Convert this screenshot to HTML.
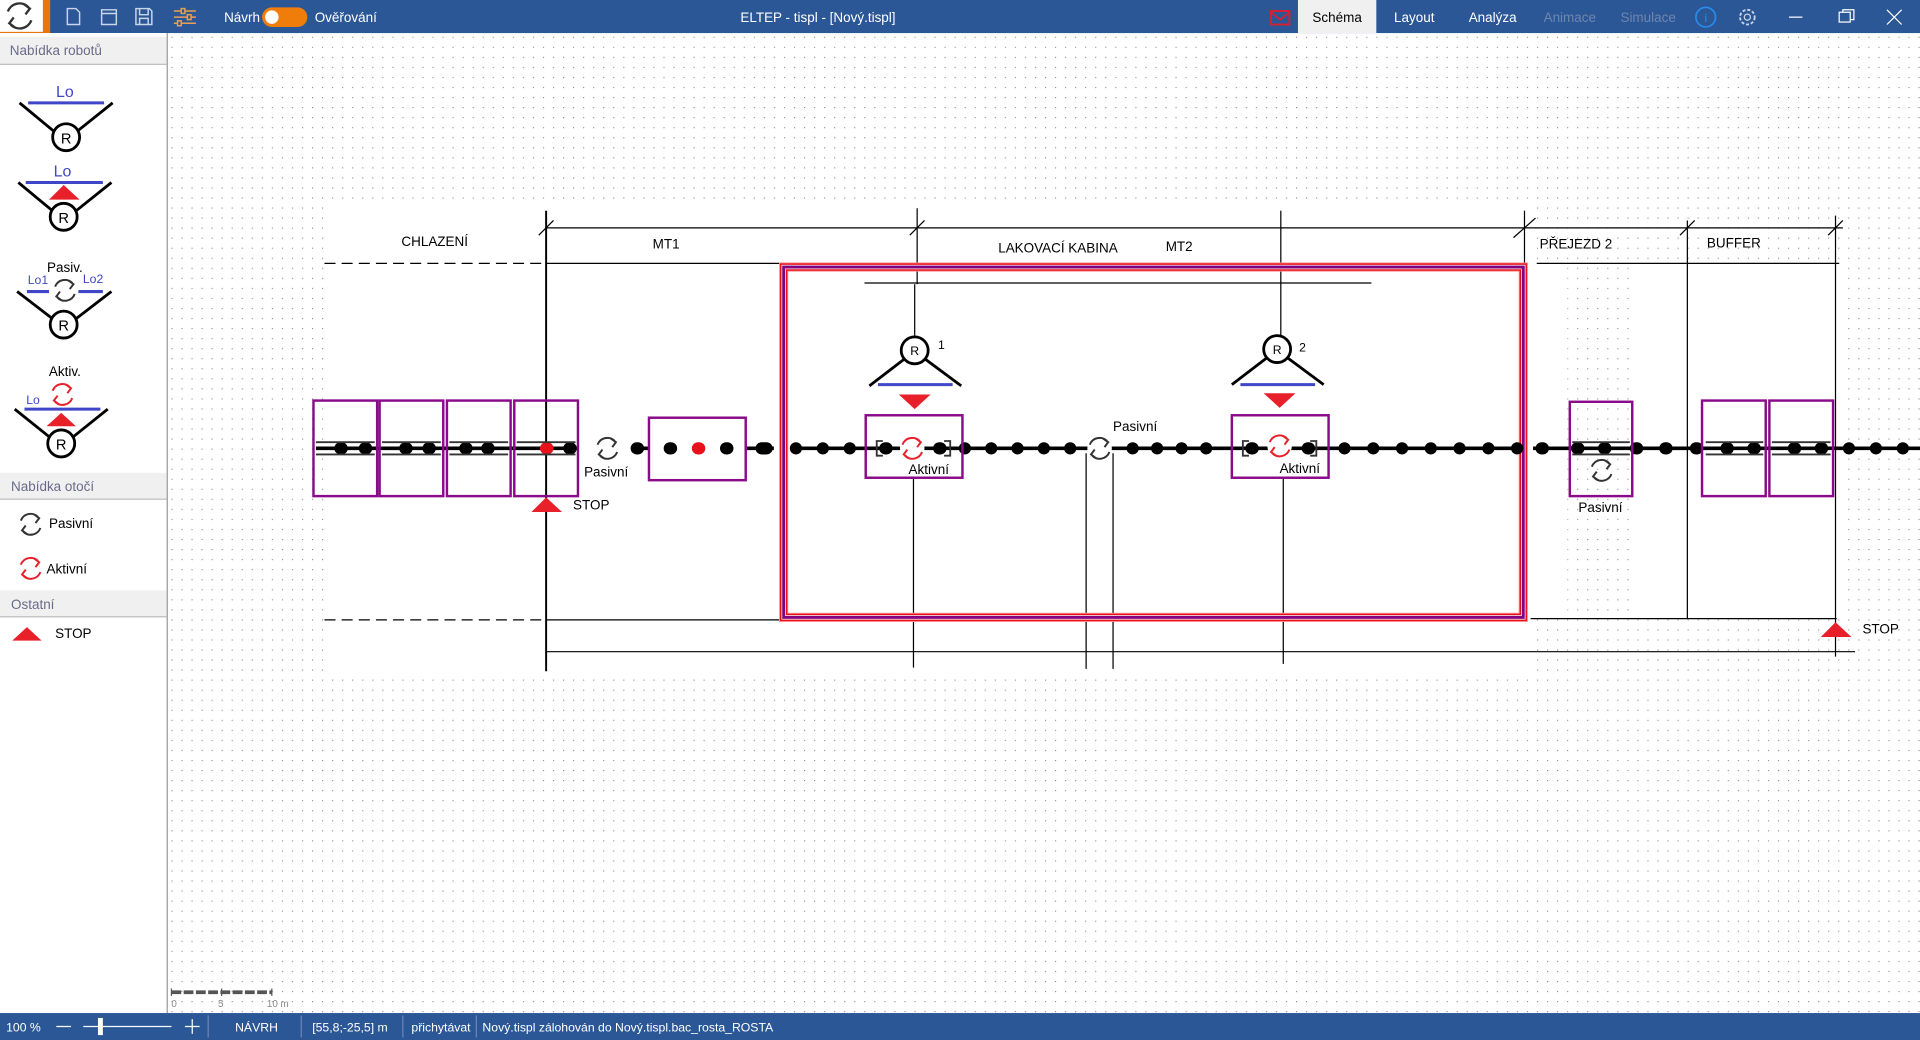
<!DOCTYPE html>
<html><head><meta charset="utf-8"><style>
html,body{margin:0;padding:0;width:1920px;height:1040px;overflow:hidden;background:#fff}
svg{display:block}
text{font-family:"Liberation Sans",sans-serif}
</style></head><body>
<svg width="1920" height="1040" viewBox="0 0 1568 849" preserveAspectRatio="none" xmlns="http://www.w3.org/2000/svg">
<defs>
<pattern id="dots" x="140" y="30" width="8.2" height="8.2" patternUnits="userSpaceOnUse"><rect x="0" y="0" width="0.9" height="0.9" fill="#8a8a8a"/></pattern>
<g id="rotP" fill="none" stroke="#333" stroke-width="1.6">
<path d="M-8,-3 A8.5,8.5 0 0 1 6,-6"/><path d="M8,3 A8.5,8.5 0 0 1 -6,6"/>
<path d="M3,-8 L7,-5 L4,-1" /><path d="M-3,8 L-7,5 L-4,1"/>
</g>
<g id="rotA" fill="none" stroke="#e8202a" stroke-width="1.6">
<path d="M-8,-3 A8.5,8.5 0 0 1 6,-6"/><path d="M8,3 A8.5,8.5 0 0 1 -6,6"/>
<path d="M3,-8 L7,-5 L4,-1" /><path d="M-3,8 L-7,5 L-4,1"/>
</g>
</defs>
<rect x="137" y="28" width="1431" height="799" fill="url(#dots)"/>
<rect x="265" y="168" width="985" height="380" fill="#fff"/>
<rect x="1250" y="215" width="30" height="290" fill="#fff"/>
<rect x="1335" y="215" width="170" height="290" fill="#fff"/>
<rect x="0" y="0" width="1568" height="27" fill="#2b5797"/>
<rect x="0" y="0" width="41" height="27" fill="#e8760e"/>
<rect x="0" y="0" width="35" height="26" fill="#fff"/>
<g transform="translate(16,13)"><use href="#rotP" transform="scale(1.2)"/></g>
<g fill="none" stroke="#c9d6ea" stroke-width="1.2">
<path d="M55,7 h7 l3,3 v10 h-10z"/><path d="M83,8 h12 v12 h-12z M83,11 h12"/><path d="M111,7 h11 l2,2 v11 h-13z M114,7 v5 h7 v-5 M114,20 v-5 h7 v5"/>
</g>
<g stroke="#e8a050" stroke-width="1.2"><path d="M142,9 h18 M142,14 h18 M142,19 h18"/><rect x="148" y="7" width="3" height="4" fill="#2b5797"/><rect x="153" y="12" width="3" height="4" fill="#2b5797"/><rect x="145" y="17" width="3" height="4" fill="#2b5797"/></g>
<text x="183" y="18" font-size="11" fill="#fff">Návrh</text>
<rect x="214" y="6" width="37" height="16" rx="8" fill="#f07d0a"/><circle cx="222" cy="14" r="5.5" fill="#fff"/>
<text x="257" y="18" font-size="11" fill="#fff">Ověřování</text>
<text x="668" y="18" font-size="11" fill="#fff" text-anchor="middle">ELTEP - tispl - [Nový.tispl]</text>
<rect x="1038" y="9" width="15" height="11" fill="none" stroke="#d62030" stroke-width="1.6"/><path d="M1038,10 l7.5,6 l7.5,-6" fill="none" stroke="#d62030" stroke-width="1.4"/>
<rect x="1060" y="0" width="64" height="27" fill="#f0f0f0"/>
<text x="1092" y="18" font-size="11" fill="#000" text-anchor="middle">Schéma</text>
<text x="1155" y="18" font-size="11" fill="#fff" text-anchor="middle">Layout</text>
<text x="1219" y="18" font-size="11" fill="#fff" text-anchor="middle">Analýza</text>
<text x="1282" y="18" font-size="11" fill="#6f86ad" text-anchor="middle">Animace</text>
<text x="1346" y="18" font-size="11" fill="#6f86ad" text-anchor="middle">Simulace</text>
<circle cx="1393" cy="14" r="8" fill="none" stroke="#2a8ae8" stroke-width="1.4"/><text x="1393" y="18" font-size="10" fill="#2a8ae8" text-anchor="middle">i</text>
<circle cx="1427" cy="14" r="6" fill="none" stroke="#c9d6ea" stroke-width="1.5" stroke-dasharray="2.5 1.5"/><circle cx="1427" cy="14" r="2.5" fill="none" stroke="#c9d6ea"/>
<g stroke="#fff" stroke-width="1" fill="none"><path d="M1461,14 h11"/><rect x="1502" y="10" width="9" height="8"/><path d="M1505,10 v-2 h9 v8 h-3"/><path d="M1541,8 l12,12 M1553,8 l-12,12"/></g>
<rect x="0" y="27" width="136" height="800" fill="#fff"/>
<rect x="136" y="27" width="1.2" height="800" fill="#a8a8a8"/>
<rect x="0" y="30" width="136" height="22" fill="#f0f0f0"/><rect x="0" y="52" width="136" height="1" fill="#bbb"/>
<text x="8" y="45" font-size="11" fill="#6a6a8a">Nabídka robotů</text>
<rect x="0" y="386" width="136" height="21" fill="#f0f0f0"/><rect x="0" y="407" width="136" height="1" fill="#bbb"/>
<text x="9" y="401" font-size="11" fill="#6a6a8a">Nabídka otočí</text>
<rect x="0" y="482" width="136" height="21" fill="#f0f0f0"/><rect x="0" y="503" width="136" height="1" fill="#bbb"/>
<text x="9" y="497" font-size="11" fill="#6a6a8a">Ostatní</text>
<g stroke="#000" stroke-width="2.3" fill="none">
<path d="M16,84 L45,108 M92,84 L62,108"/><circle cx="54" cy="112" r="11" fill="#fff"/>
<path d="M15,149 L44,173 M91,149 L61,173"/><circle cx="52" cy="177" r="11" fill="#fff"/>
<path d="M14,238 L44,261 M91,238 L61,261"/><circle cx="52" cy="265" r="11" fill="#fff"/>
<path d="M12,334 L42,358 M88,334 L58,358"/><circle cx="50" cy="362" r="11" fill="#fff"/>
</g>
<g stroke="#4046c8" stroke-width="2.5"><path d="M23,84 H85"/><path d="M21,149 H84"/><path d="M22,238 H40 M64,238 H84"/><path d="M20,334 H82"/></g>
<g font-size="13" fill="#4046c8" text-anchor="middle"><text x="53" y="79">Lo</text><text x="51" y="144">Lo</text></g>
<g font-size="10" fill="#4046c8" text-anchor="middle"><text x="31" y="232">Lo1</text><text x="76" y="231">Lo2</text><text x="27" y="330">Lo</text></g>
<g font-size="12" fill="#000" text-anchor="middle"><text x="54" y="117">R</text><text x="52" y="182">R</text><text x="52" y="270">R</text><text x="50" y="367">R</text></g>
<g font-size="11" fill="#000" text-anchor="middle"><text x="53" y="222">Pasiv.</text><text x="53" y="307">Aktiv.</text></g>
<path d="M40,163 L52,151 L65,163Z" fill="#e8202a"/><path d="M38,348 L50,337 L62,348Z" fill="#e8202a"/>
<use href="#rotP" x="53" y="237"/><use href="#rotA" x="51" y="322"/>
<use href="#rotP" x="25" y="428"/><use href="#rotA" x="25" y="464"/>
<text x="40" y="431" font-size="11" fill="#000">Pasivní</text><text x="38" y="468" font-size="11" fill="#000">Aktivní</text>
<path d="M10,523 L22,512 L34,523Z" fill="#e8202a"/><text x="45" y="521" font-size="11" fill="#000">STOP</text>
<rect x="0" y="827" width="1568" height="22" fill="#2b5797"/>
<g font-size="10" fill="#fff"><text x="5" y="842">100 %</text><text x="192" y="842">NÁVRH</text><text x="255" y="842">[55,8;-25,5] m</text><text x="336" y="842">přichytávat</text><text x="394" y="842">Nový.tispl zálohován do Nový.tispl.bac_rosta_ROSTA</text></g>
<g stroke="#fff" stroke-width="1"><path d="M46,838 h12 M68,838 h72 M151,838 h12 M157,832 v12"/></g><rect x="80" y="831" width="4" height="14" fill="#fff"/>
<g stroke="#6a86b5"><path d="M170,829 v18 M246,829 v18 M329,829 v18 M389,829 v18"/></g>
<path d="M140,810 h82" stroke="#555" stroke-width="3" stroke-dasharray="8 2"/><path d="M140,807 v6 M181,807 v6 M222,807 v6" stroke="#555"/>
<g font-size="8" fill="#888"><text x="140" y="822">0</text><text x="178" y="822">5</text><text x="218" y="822">10 m</text></g>
<g stroke="#000" stroke-width="1" fill="none">
<path d="M265,215 H446 M265,506 H446" stroke-dasharray="9 5"/>
<path d="M446,186 H1505"/>
<path d="M446,172 V548" stroke-width="1.6"/>
<path d="M749,170 V232"/><path d="M747,232 V276"/>
<path d="M1046,172 V276"/>
<path d="M1245,172 V230"/><path d="M1378,180 V505"/><path d="M1499,176 V536"/>
<path d="M446,215 H637 M446,506 H637"/>
<path d="M1255,215 H1502 M1250,505 H1500"/>
<path d="M446,532 H1515"/>
<path d="M706,231 H1120"/>
<path d="M746,390 V545 M887,370 V546 M909,370 V546 M1048,390 V542"/>
<path d="M440,192 L452,180 M743,192 L755,180 M1236,194 L1254,178 M1372,192 L1384,180 M1493,192 L1505,180"/>
</g>
<g font-size="11" fill="#000" text-anchor="middle">
<text x="355" y="201">CHLAZENÍ</text><text x="544" y="203">MT1</text><text x="864" y="206">LAKOVACÍ KABINA</text><text x="963" y="205">MT2</text><text x="1287" y="203">PŘEJEZD 2</text><text x="1416" y="202">BUFFER</text>
</g>
<rect x="640" y="218" width="604" height="286" fill="none" stroke="#ff9090" stroke-width="7.5"/>
<rect x="640" y="218" width="604" height="286" fill="none" stroke="#e8101a" stroke-width="6"/>
<rect x="640" y="218" width="604" height="286" fill="none" stroke="#fff" stroke-width="3.6"/>
<rect x="640" y="218" width="604" height="286" fill="none" stroke="#800080" stroke-width="2.4"/>
<g stroke="#000" stroke-width="3">
<path d="M258,366 H472"/><path d="M516,366 H530"/><path d="M610,366 H632"/><path d="M648,366 H1237"/><path d="M1252,366 H1568"/>
</g>
<g stroke="#000" stroke-width="10" stroke-linecap="round">
<path d="M520,366 H521"/><path d="M622,366 H626"/>
<path d="M650,366 H705" stroke-dasharray="0 22"/>
<path d="M788,366 H900" stroke-dasharray="0 21.5"/>
<path d="M925,366 H1005" stroke-dasharray="0 20"/>
<path d="M1098,366 H1240" stroke-dasharray="0 23.5"/>
<path d="M1259,366 H1260"/><path d="M1288,366 H1289"/><path d="M1310,366 H1311"/><path d="M1336,366 H1337"/><path d="M1360,366 H1361"/><path d="M1385,366 H1386"/>
<path d="M1510,366 H1568" stroke-dasharray="0 22"/>
<path d="M278,366 H279 M298,366 H299 M331,366 H332 M350,366 H351 M380,366 H381 M398,366 H399 M465,366 H466 M547,366 H548 M593,366 H594 M723,366 H724 M767,366 H768 M1022,366 H1023 M1068,366 H1069 M1410,366 H1411 M1432,366 H1433 M1465,366 H1466 M1487,366 H1488"/>
</g>
<g stroke="#e8101a" stroke-width="10" stroke-linecap="round"><path d="M446,366 H447 M570,366 H571"/></g>
<g stroke="#333" stroke-width="1.5" fill="none">
<path d="M258,361 H306 M258,371 H306 M312,361 H360 M312,371 H360 M367,361 H415 M367,371 H415 M422,361 H470 M422,371 H470 M1393,361 H1440 M1393,371 H1440 M1447,361 H1495 M1447,371 H1495 M1284,361 H1331 M1284,371 H1331"/>
<path d="M721,360 h-5 v12 h5 M771,360 h5 v12 h-5 M1020,360 h-5 v12 h5 M1070,360 h5 v12 h-5"/>
</g>
<g fill="none" stroke="#8a0a8a" stroke-width="2">
<rect x="256" y="327" width="52" height="78"/><rect x="310" y="327" width="52" height="78"/><rect x="365" y="327" width="52" height="78"/><rect x="420" y="327" width="52" height="78"/>
<rect x="530" y="341" width="79" height="51"/><rect x="707" y="339" width="79" height="51"/><rect x="1006" y="339" width="79" height="51"/>
<rect x="1282" y="328" width="51" height="77"/><rect x="1390" y="327" width="52" height="78"/><rect x="1445" y="327" width="52" height="78"/>
</g>
<circle cx="496" cy="366" r="10" fill="#fff"/><use href="#rotP" x="496" y="366"/>
<circle cx="898" cy="366" r="10" fill="#fff"/><use href="#rotP" x="898" y="366"/>
<use href="#rotP" x="1308" y="384"/>
<circle cx="745" cy="366" r="10" fill="#fff"/><use href="#rotA" x="745" y="366"/>
<circle cx="1045" cy="364" r="10" fill="#fff"/><use href="#rotA" x="1045" y="364"/>
<g font-size="11" fill="#000">
<text x="477" y="389">Pasivní</text><text x="909" y="352">Pasivní</text><text x="1289" y="418">Pasivní</text>
<text x="742" y="387">Aktivní</text><text x="1045" y="386">Aktivní</text>
<text x="468" y="416">STOP</text><text x="1521" y="517">STOP</text>
</g>
<path d="M434,418 L446,406 L459,418Z" fill="#e8202a"/><path d="M1487,520 L1499,508 L1512,520Z" fill="#e8202a"/>
<g stroke="#000" stroke-width="2.3" fill="none">
<path d="M740,292 L710,315 M754,292 L785,315"/><circle cx="747" cy="286" r="11" fill="#fff"/>
<path d="M1036,291 L1006,314 M1050,291 L1081,314"/><circle cx="1043" cy="285" r="11" fill="#fff"/>
</g>
<g stroke="#4046c8" stroke-width="2.5"><path d="M717,314 H778 M1013,314 H1074"/></g>
<path d="M734,322 L760,322 L747,334Z M1032,321 L1058,321 L1045,333Z" fill="#e8202a"/>
<g font-size="10" fill="#000"><text x="747" y="290" text-anchor="middle">R</text><text x="1043" y="289" text-anchor="middle">R</text><text x="766" y="285">1</text><text x="1061" y="287">2</text></g>
</svg>
</body></html>
